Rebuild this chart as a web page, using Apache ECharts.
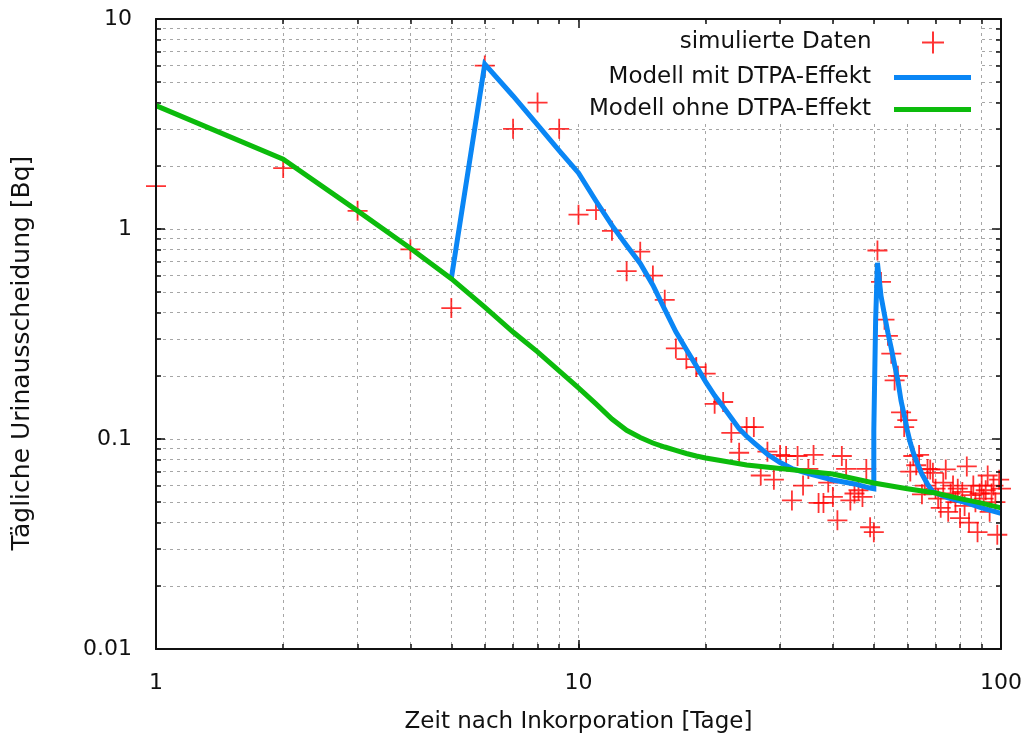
<!DOCTYPE html>
<html>
<head>
<meta charset="utf-8">
<title>Tägliche Urinausscheidung</title>
<script src="https://cdn.jsdelivr.net/npm/echarts@6/dist/echarts.min.js"></script>
<style>
  html, body { margin: 0; padding: 0; background: #ffffff; }
  #chart { width: 1026px; height: 746px; }
</style>
</head>
<body>
<div id="chart"></div>
<script>
// Simulated daily excretion values, one per day
const dataDays = [
  1, 2, 3, 4, 5, 6, 7, 8, 9, 10,
  11, 12, 13, 14, 15, 16, 17, 18, 19, 20,
  21, 22, 23, 24, 25, 26, 27, 28, 29, 30,
  31, 32, 33, 34, 35, 36, 37, 38, 39, 40,
  41, 42, 43, 44, 45, 46, 47, 48, 49, 50,
  51, 52, 53, 54, 55, 56, 57, 58, 59, 60,
  61, 62, 63, 64, 65, 66, 67, 68, 69, 70,
  71, 72, 73, 74, 75, 76, 77, 78, 79, 80,
  81, 82, 83, 84, 85, 86, 87, 88, 89, 90,
  91, 92, 93, 94, 95, 96, 97, 98, 99, 100
];
const dataValues = [
  1.6, 1.95, 1.22, 0.80, 0.42, 6.0, 3.0, 4.0, 3.0, 1.17,
  1.23, 0.98, 0.63, 0.78, 0.60, 0.46, 0.27, 0.24, 0.22, 0.205,
  0.147, 0.15, 0.107, 0.086, 0.114, 0.114, 0.067, 0.087, 0.064, 0.084,
  0.083, 0.051, 0.083, 0.06, 0.072, 0.084, 0.0496, 0.0496, 0.062, 0.053,
  0.041, 0.083, 0.072, 0.051, 0.055, 0.057, 0.053, 0.072, 0.038, 0.036,
  0.79, 0.56, 0.37, 0.31, 0.255, 0.19, 0.20, 0.134, 0.114, 0.123,
  0.07, 0.083, 0.075, 0.084, 0.0545, 0.06, 0.072, 0.0716, 0.069, 0.058,
  0.052, 0.047, 0.062, 0.0716, 0.045, 0.055, 0.06, 0.05, 0.058, 0.042,
  0.056, 0.048, 0.074, 0.040, 0.054, 0.06, 0.05, 0.036, 0.055, 0.06,
  0.052, 0.057, 0.067, 0.045, 0.055, 0.06, 0.05, 0.035, 0.064, 0.058
];

// Model curve with DTPA treatment (days 6 and 50)
const mitDays = [
  5, 6, 7, 8, 9, 10, 11, 12, 13, 14, 15, 16, 17, 18, 19, 20,
  21, 22, 23, 24, 25, 26, 28, 30, 32, 35, 40, 45, 49,
  50, 50, 50.5, 51, 52, 53, 54, 55, 56, 57, 58, 59, 60,
  61, 62, 63, 65, 67, 69, 75, 83, 90, 100
];
const mitValues = [
  0.58, 6.1, 4.30, 3.13, 2.36, 1.85, 1.36, 1.04, 0.835, 0.685, 0.54, 0.414, 0.324, 0.267, 0.223, 0.187,
  0.161, 0.1425, 0.126, 0.112, 0.103, 0.096, 0.0846, 0.0773, 0.0723, 0.0685, 0.0638, 0.0611, 0.0584,
  0.058, 0.11, 0.37, 0.69, 0.48, 0.39, 0.32, 0.27, 0.225, 0.19, 0.152, 0.13, 0.11,
  0.096, 0.086, 0.079, 0.068, 0.061, 0.056, 0.0525, 0.0496, 0.047, 0.0442
];

// Model curve without DTPA
const ohneDays = [
  1, 2, 3, 4, 5, 6, 7, 8, 9, 10, 11, 12, 13, 14, 15, 16, 17, 18, 19, 20,
  25, 30, 35, 40, 50, 60, 70, 80, 90, 100
];
const ohneValues = [
  3.87, 2.15, 1.22, 0.81, 0.58, 0.425, 0.323, 0.26, 0.211, 0.175, 0.147, 0.1245, 0.110, 0.1017, 0.0957, 0.0916, 0.0882, 0.0853, 0.083, 0.0812,
  0.0752, 0.0724, 0.070, 0.0681, 0.0617, 0.058, 0.0553, 0.052, 0.0495, 0.047
];

// Tick positions (all 1..9 multiples per decade) and labelled decades
const xTickValues = [1, 2, 3, 4, 5, 6, 7, 8, 9, 10, 20, 30, 40, 50, 60, 70, 80, 90, 100];
const xLabelValues = [1, 10, 100];
const yTickValues = [
  0.01, 0.02, 0.03, 0.04, 0.05, 0.06, 0.07, 0.08, 0.09,
  0.1, 0.2, 0.3, 0.4, 0.5, 0.6, 0.7, 0.8, 0.9,
  1, 2, 3, 4, 5, 6, 7, 8, 9, 10
];
const yLabelValues = [0.01, 0.1, 1, 10];

const seriesNames = ['simulierte Daten', 'Modell mit DTPA-Effekt', 'Modell ohne DTPA-Effekt'];

const zip = (xs, ys) => xs.map((x, i) => [x, ys[i]]);

const FONT = 'DejaVu Sans';
const INK = '#111111';
const crossPath = 'path://M-4.5,-50H4.5V-4.5H50V4.5H4.5V50H-4.5V4.5H-50V-4.5H-4.5Z';

const tickLine = { color: INK, width: 1.5 };
const frameLine = { show: true, lineStyle: { color: INK, width: 2 } };
const gridLine = { show: true, lineStyle: { type: [3, 4], color: '#a6a6a6', width: 1 } };
const labelText = { fontFamily: FONT, fontSize: 22, color: INK };

const logX = { type: 'log', logBase: 10, min: 1, max: 100, gridIndex: 0 };
const logY = { type: 'log', logBase: 10, min: 0.01, max: 10, gridIndex: 0 };

const chart = echarts.init(document.getElementById('chart'), null, { renderer: 'canvas' });

const legendBase = {
  orient: 'horizontal',
  right: 55,
  itemWidth: 77,
  align: 'right',
  padding: 0,
  selectedMode: false,
  textStyle: { fontFamily: FONT, fontSize: 23, color: INK, padding: [0, 18, 0, 0] }
};

chart.setOption({
  animation: false,
  backgroundColor: '#ffffff',
  grid: { left: 156, right: 25, top: 19, bottom: 97, containLabel: false },
  graphic: [{
    // opaque key box behind the legend entries
    type: 'rect',
    silent: true,
    z: 1,
    shape: { x: 496, y: 24, width: 484, height: 100 },
    style: { fill: '#ffffff' }
  }],
  legend: [
    Object.assign({}, legendBase, {
      right: 82, top: 31, itemHeight: 22,
      data: [{ name: seriesNames[0], icon: crossPath }]
    }),
    Object.assign({}, legendBase, {
      top: 66, itemHeight: 5,
      data: [{ name: seriesNames[1], icon: 'rect' }]
    }),
    Object.assign({}, legendBase, {
      top: 98, itemHeight: 5,
      data: [{ name: seriesNames[2], icon: 'rect' }]
    })
  ],
  xAxis: [
    Object.assign({}, logX, {
      position: 'bottom',
      axisLine: { show: false },
      axisTick: { show: true, inside: true, length: 5, customValues: xTickValues, lineStyle: tickLine },
      axisLabel: Object.assign({ customValues: xLabelValues, margin: 23, showMinLabel: true, showMaxLabel: true }, labelText),
      splitLine: Object.assign({}, gridLine),
      name: 'Zeit nach Inkorporation [Tage]',
      nameLocation: 'middle',
      nameGap: 62,
      nameTextStyle: { fontFamily: FONT, fontSize: 23, color: INK }
    }),
    Object.assign({}, logX, {
      position: 'bottom', z: 5,
      axisLine: frameLine,
      axisTick: { show: true, inside: true, length: 9, customValues: xLabelValues, lineStyle: tickLine },
      axisLabel: { show: false },
      splitLine: { show: false }
    }),
    Object.assign({}, logX, {
      position: 'top', z: 5,
      axisLine: frameLine,
      axisTick: { show: true, inside: true, length: 5, customValues: xTickValues, lineStyle: tickLine },
      axisLabel: { show: false },
      splitLine: { show: false }
    }),
    Object.assign({}, logX, {
      position: 'top', z: 5,
      axisLine: { show: false },
      axisTick: { show: true, inside: true, length: 9, customValues: xLabelValues, lineStyle: tickLine },
      axisLabel: { show: false },
      splitLine: { show: false }
    })
  ],
  yAxis: [
    Object.assign({}, logY, {
      position: 'left',
      axisLine: { show: false },
      axisTick: { show: true, inside: true, length: 5, customValues: yTickValues, lineStyle: tickLine },
      axisLabel: Object.assign({ customValues: yLabelValues, margin: 24, showMinLabel: true, showMaxLabel: true }, labelText),
      splitLine: Object.assign({}, gridLine),
      name: 'Tägliche Urinausscheidung [Bq]',
      nameLocation: 'middle',
      nameRotate: 90,
      nameGap: 121,
      nameTextStyle: { fontFamily: FONT, fontSize: 25, color: INK, padding: [0, 38, 0, 0] }
    }),
    Object.assign({}, logY, {
      position: 'left', z: 5,
      axisLine: frameLine,
      axisTick: { show: true, inside: true, length: 9, customValues: yLabelValues, lineStyle: tickLine },
      axisLabel: { show: false },
      splitLine: { show: false }
    }),
    Object.assign({}, logY, {
      position: 'right', z: 5,
      axisLine: frameLine,
      axisTick: { show: true, inside: true, length: 5, customValues: yTickValues, lineStyle: tickLine },
      axisLabel: { show: false },
      splitLine: { show: false }
    }),
    Object.assign({}, logY, {
      position: 'right', z: 5,
      axisLine: { show: false },
      axisTick: { show: true, inside: true, length: 9, customValues: yLabelValues, lineStyle: tickLine },
      axisLabel: { show: false },
      splitLine: { show: false }
    })
  ],
  series: [
    {
      name: seriesNames[0],
      type: 'scatter',
      xAxisIndex: 0, yAxisIndex: 0,
      data: zip(dataDays, dataValues),
      symbol: crossPath,
      symbolSize: 20,
      itemStyle: { color: '#ff0000' },
      z: 2
    },
    {
      name: seriesNames[1],
      type: 'line',
      xAxisIndex: 0, yAxisIndex: 0,
      data: zip(mitDays, mitValues),
      showSymbol: false,
      symbol: 'none',
      itemStyle: { color: '#0a86f5' },
      lineStyle: { color: '#0a86f5', width: 5, join: 'miter' },
      z: 3
    },
    {
      name: seriesNames[2],
      type: 'line',
      xAxisIndex: 0, yAxisIndex: 0,
      data: zip(ohneDays, ohneValues),
      showSymbol: false,
      symbol: 'none',
      itemStyle: { color: '#0cbb0c' },
      lineStyle: { color: '#0cbb0c', width: 5, join: 'miter' },
      z: 4
    }
  ]
});
</script>
</body>
</html>
